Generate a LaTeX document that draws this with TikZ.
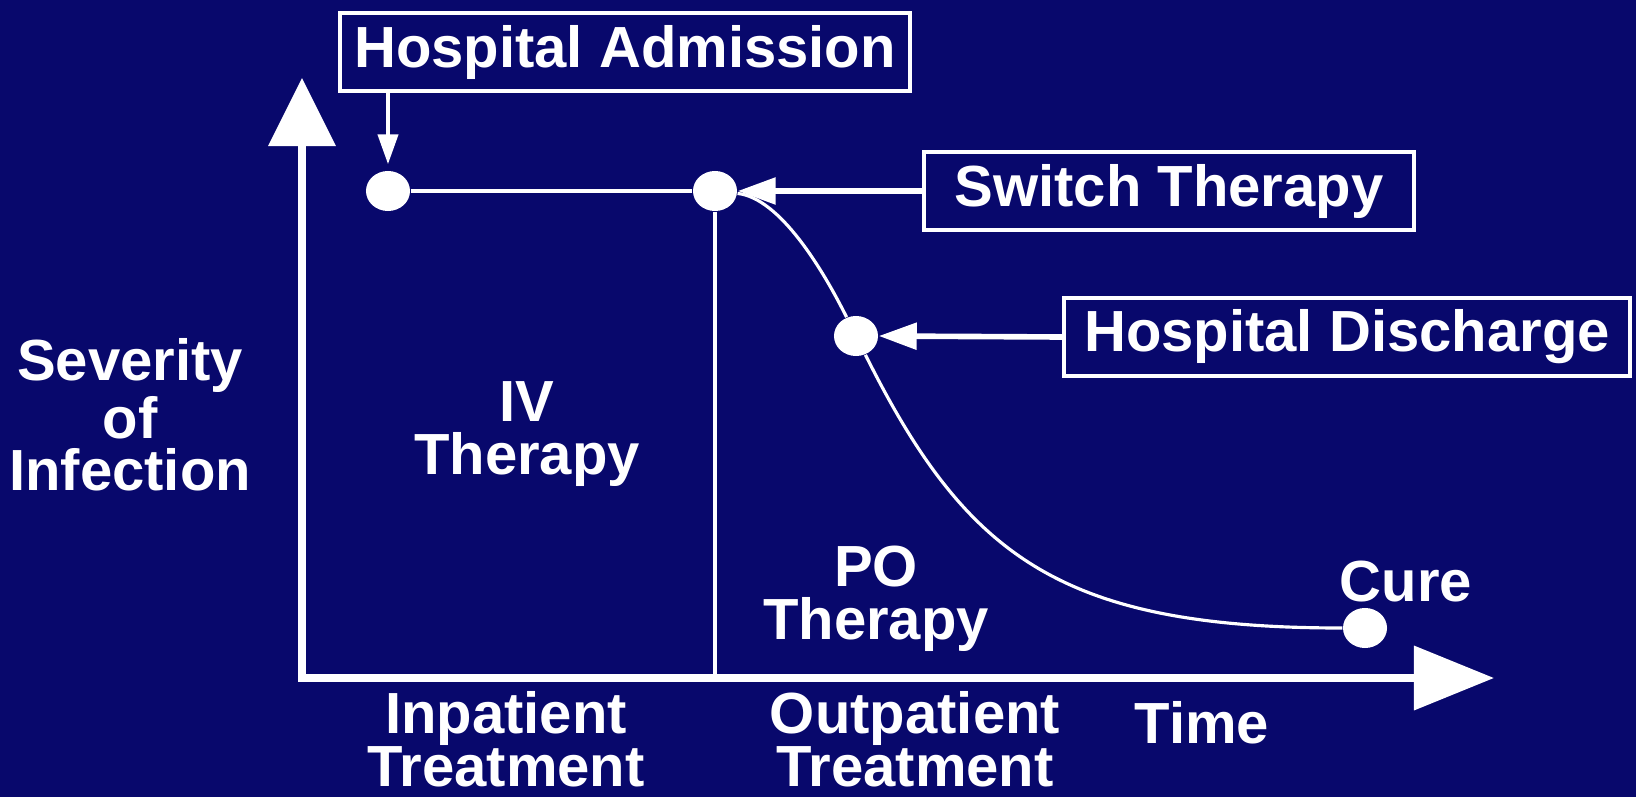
\documentclass[tikz,border=0pt]{standalone}
\usepackage{fontspec}
\setmainfont{Liberation Sans}
\usepackage{tikz}
\usetikzlibrary{arrows.meta}
\usetikzlibrary{shapes.geometric}
\definecolor{navy}{RGB}{8,8,108}

\begin{document}
\begin{tikzpicture}[x=0.01cm,y=-0.01cm,
	txt/.style={text=white,font=\fontsize{16.5}{15}\selectfont\bfseries,align=center},
	lbl/.style={txt,draw=white,line width=1.1pt,inner xsep=0pt,minimum height=0.62cm},
	dot/.style={ellipse,fill=white,inner sep=0pt,minimum width=0.44cm,minimum height=0.4cm},
	pt/.style={-{Triangle[length=0.38cm,width=0.26cm]},white,line width=1.6pt},
	wire/.style={white,line width=0.9pt}]
			\useasboundingbox(0,0)rectangle(1636,797);
			\fill[navy](0,0)rectangle(1636,797);
			% axes
			\coordinate(o)at(302,678);
			\coordinate(ytip)at(302,78);
			\coordinate(xtip)at(1494,678);
			\draw[white,line width=2pt,{Triangle[length=0.68cm,width=0.66cm]}-{Triangle[length=0.8cm,width=0.63cm]}](ytip)--(o)--(xtip);
			% points on the course
			\node[dot](adm)at(388,191){};
			\node[dot](sw)at(715,191){};
			\node[dot](dis)at(856,336){};
			\node[dot](cure)at(1365,628){};
			% boxed events
			\node[lbl,minimum width=5.7cm,minimum height=0.58cm](admbox)at(625,52){Hospital Admission};
			\node[lbl,minimum width=4.9cm](swbox)at(1169,191){Switch Therapy};
			\node[lbl,minimum width=5.66cm](disbox)at(1347,337){Hospital Discharge};
			% labels
			\node[txt](sev)at(130,415){Severity\\of\\Infection};
			\node[txt](iv)at(527,434){IV\\Therapy};
			\node[txt](po)at(876,599){PO\\Therapy};
			\node[txt](inp)at(506,739){Inpatient\\Treatment};
			\node[txt](outp)at(915,739){Outpatient\\Treatment};
			\node[txt](time)at(1202,723){Time};
			\node[txt](curelbl)at(1406,582){Cure};
			% course of the infection
			\draw[wire](adm)--(sw);
			\draw[wire](sw.south)--(sw|-o);
			\draw[wire](sw)..controls(780,198)and(823,270)..(dis)..controls(966,556)and(1060,628)..(cure);
			\draw[pt](swbox.west)--(sw.east);
			\draw[pt](disbox.west)--(dis.east);
			\draw[pt,line width=1.2pt,-{Triangle[length=0.3cm,width=0.2cm]},shorten >=0.06cm](admbox.south-|adm)--(adm.north);
		\end{tikzpicture}
\end{document}
